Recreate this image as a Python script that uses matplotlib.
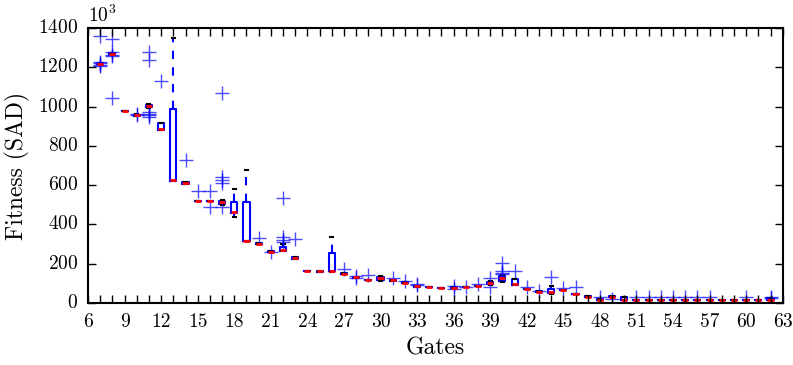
import matplotlib
matplotlib.use("Agg")
from matplotlib import pyplot as plt

plt.style.use("classic")
plt.rcParams["font.family"] = ["cmr10", "DejaVu Serif"]
plt.rcParams["mathtext.fontset"] = "cm"
plt.rcParams["axes.formatter.use_mathtext"] = True

# fitness values in units of 10^3
gates = list(range(7, 63))
med = [1218, 1268, 978, 955, 1003, 885, 625, 612, 518, 518,
       515, 463, 318, 302, 262, 268, 230, 165, 162, 165,
       150, 130, 117, 125, 115, 103, 85, 80, 77, 78,
       80, 85, 100, 125, 95, 72, 58, 57, 65, 47,
       32, 17, 32, 17, 15, 15, 15, 15, 15, 15,
       15, 15, 15, 15, 15, 15]
q1 = [1215, 1265, 978, 952, 998, 883, 622, 608, 518, 518,
      505, 460, 316, 300, 260, 265, 226, 165, 160, 163,
      148, 127, 115, 115, 113, 101, 83, 80, 77, 77,
      79, 84, 95, 110, 93, 71, 57, 52, 64, 46,
      30, 16, 30, 15, 15, 15, 15, 15, 15, 15,
      15, 15, 15, 15, 15, 14]
q3 = [1220, 1272, 978, 958, 1008, 915, 990, 615, 518, 518,
      520, 516, 516, 304, 264, 285, 234, 165, 164, 253,
      152, 133, 119, 130, 117, 105, 88, 80, 77, 79,
      81, 86, 108, 135, 122, 73, 59, 70, 66, 48,
      35, 18, 33, 28, 15, 15, 15, 15, 15, 15,
      15, 15, 15, 15, 15, 25]
whislo = [1215, 1265, 978, 950, 995, 883, 622, 608, 518, 518,
          500, 440, 316, 300, 260, 265, 226, 165, 160, 160,
          148, 127, 115, 112, 113, 101, 83, 80, 77, 77,
          79, 84, 92, 105, 93, 71, 57, 46, 64, 46,
          30, 16, 30, 15, 15, 15, 15, 15, 15, 15,
          15, 15, 15, 15, 15, 14]
whishi = [1220, 1272, 978, 960, 1013, 915, 1350, 615, 518, 518,
          522, 580, 675, 304, 264, 300, 234, 165, 164, 336,
          152, 133, 119, 137, 117, 105, 88, 80, 77, 79,
          81, 86, 110, 140, 122, 73, 59, 87, 66, 48,
          35, 18, 33, 28, 15, 15, 15, 15, 15, 15,
          15, 15, 15, 15, 15, 25]
fliers = [[1360, 1228, 1222, 1212, 1208], [1345, 1278, 1262, 1258, 1045], [],
          [965, 955], [1280, 1235, 975, 965, 955, 945],
          [1130], [], [730], [568], [568, 488],
          [1070, 640, 625, 610, 488], [], [], [332], [262],
          [535, 335, 320, 310], [325], [], [], [],
          [175], [135, 125], [140], [], [125],
          [112], [95, 90], [], [], [88, 72],
          [82], [95], [125, 80], [205, 165, 155, 150], [165],
          [82], [62], [132], [75], [83],
          [], [32], [22], [], [32],
          [32], [32], [32], [32], [32],
          [32], [], [], [32], [],
          [32, 25]]

stats = []
for i in range(len(gates)):
    stats.append(dict(med=med[i], q1=q1[i], q3=q3[i], whislo=whislo[i],
                      whishi=whishi[i], fliers=fliers[i]))

fig = plt.figure(figsize=(7.93, 3.65), dpi=100)
fig.patch.set_facecolor("white")
ax = fig.add_axes([0.111, 0.170, 0.876, 0.753])

ax.bxp(stats, positions=gates, widths=0.5,
       boxprops=dict(color="b", linewidth=1.5),
       medianprops=dict(color="r", linewidth=2),
       whiskerprops=dict(color="b", linestyle="--", linewidth=1.5),
       capprops=dict(color="k", linewidth=1.5),
       flierprops=dict(marker="+", markeredgecolor="b", markersize=10,
                       markeredgewidth=1, alpha=0.7, linestyle="none"))

ax.set_xlim(6, 63)
ax.set_ylim(0, 1400)
ax.set_xticks(range(6, 64))
ax.set_xticklabels([str(g) if g % 3 == 0 else "" for g in range(6, 64)])
ax.set_yticks(range(0, 1401, 200))
ax.tick_params(direction="in", length=6, width=1, labelsize=14, pad=7,
               top=True, right=True)
for sp in ax.spines.values():
    sp.set_linewidth(1.5)

ax.set_xlabel("Gates", fontsize=17, labelpad=5)
ax.set_ylabel("Fitness (SAD)", fontsize=17, labelpad=6)
ax.text(0.0, 1.008, r"$10^3$", transform=ax.transAxes, fontsize=14, ha="left", va="bottom")

plt.savefig("out.png", dpi=100, facecolor="white")
